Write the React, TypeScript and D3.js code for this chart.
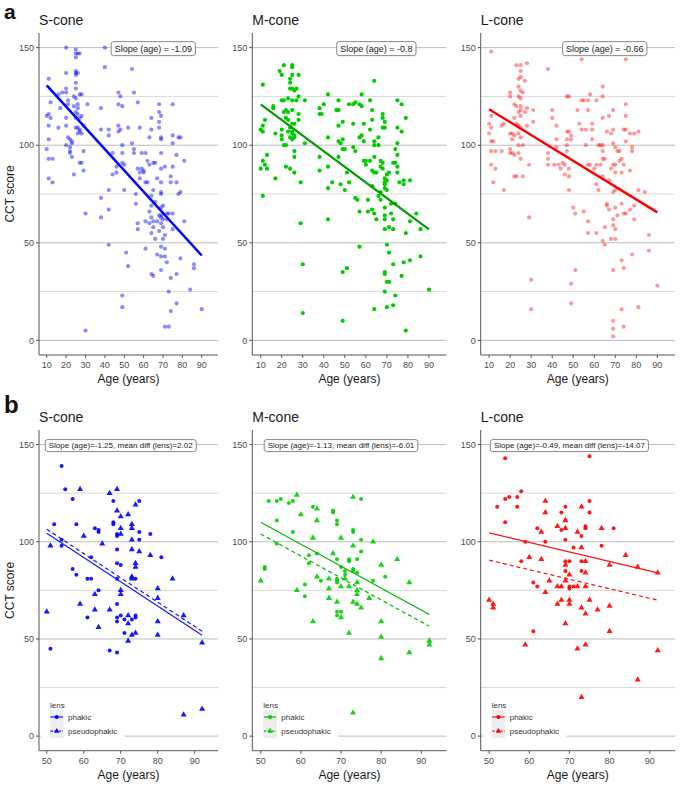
import React from "react";
import * as d3 from "d3";

// ---------- DATA ----------
const coneNames = ["S-cone", "M-cone", "L-cone"];
const xTicksA = [10, 20, 30, 40, 50, 60, 70, 80, 90];
const xTicksB = [50, 60, 70, 80, 90];
const yTicks = [0, 50, 100, 150];
const yMinorTicks = [25, 75, 125];
const lensLevels = ["phakic", "pseudophakic"];

// Panel a: [age, CCT score]
const sConeA: [number, number][] = [
  [10,98],[11,134],[12,122],[10,115],[11,116],[12,114],[11,110],[11,103],[11,93],[13,93],[11,83],[13,81],
  [16,126],[17,119],[16,109],[18,127],
  [20,150],[20,137],[20,129],[20,127],[21,123],[20,114],[20,110],[21,121],[21,104],[20,100],[22,103],[22,99],[22,97],[22,96],[23,101],[23,94],[24,125],[24,120],[25,132],[25,129],[24,85],[23,102],
  [25,149],[25,147],[25,145],[25,138],[25,137],[25,136],[26,137],[26,147],[27,147],[25,124],[25,109],[26,109],[27,108],[26,121],[27,126],[28,126],[25,114],[26,119],[26,116],[27,114],[25,117],[26,106],[27,107],
  [27,91],[28,91],[28,115],[29,97],[29,87],[28,106],[29,110],
  [30,65],[30,5],[31,121],
  [38,119],[38,73],[38,63],[38,108],[40,140],[40,150],[42,108],[42,105],[42,77],[42,67],[42,49],[44,96],
  [44,85],[46,86],[46,89],[47,127],[48,125],[47,121],[49,120],[47,110],[47,107],[48,108],[49,100],[49,96],[49,91],[50,90],[50,77],[49,23],[49,17],[51,45],[52,38],[52,109],
  [54,139],[55,127],[54,101],[55,98],[55,96],[57,122],[56,75],[56,70],[57,60],[57,57],[57,88],[58,86],[58,83],[58,109],[59,88],[59,96],[60,87],[60,86],
  [61,96],[61,81],[61,61],[61,47],[62,81],[62,92],[63,104],[63,90],[63,66],[63,60],[64,108],[64,74],[64,69],[64,63],[64,114],[64,34],[65,33],[64,55],[65,58],[65,61],[65,91],[66,91],[65,77],[66,71],[67,83],[67,61],[66,52],[67,44],[68,64],[68,56],[68,117],
  [68,121],[68,112],[68,109],[69,115],[69,104],[69,103],[69,96],[69,88],[69,81],[69,76],[69,75],[69,68],[69,64],[69,63],[69,60],[69,48],[69,43],[69,36],[70,69],[70,62],[70,58],[70,52],[71,89],[71,54],[71,47],[71,43],[71,7],[72,40],[72,62],[72,65],[73,7],[73,25],[73,65],[74,84],[74,81],[74,15],[74,32],[75,121],[75,105],[75,101],[75,89],[75,65],[75,57],[77,95],[77,81],[77,34],[77,19],[78,75],[78,104],[79,104],[79,76],[79,42],[81,92],[81,61],[84,26],[86,39],[86,37],[90,16]
];

const mConeA: [number, number][] = [
  [11,131],[10,108],[11,107],[11,110],[10,88],[11,92],[12,90],[13,88],[13,95],[12,113],[11,74],[16,120],[16,119],[17,83],[17,106],
  [19,138],[20,136],[21,141],[20,123],[21,123],[21,117],[20,108],[20,105],[20,103],[21,100],[22,100],[22,114],[22,118],[23,113],[23,117],[22,89],[24,88],[23,124],[24,129],[24,134],[25,141],[25,140],[24,132],[25,136],[25,129],[25,123],[25,118],[25,111],[25,107],[25,106],[24,104],[25,103],[26,104],[23,107],[24,109],[26,111],[26,105],[27,129],[26,128],[27,123],[28,136],[28,125],[26,97],[26,94],[26,86],[28,116],[28,113],[29,81],[29,60],[30,39],[30,14],[31,123],[31,101],
  [38,119],[38,116],[39,116],[40,121],[38,94],[38,87],[42,126],[42,104],[42,89],[42,78],[42,62],[44,81],[46,118],[47,118],[47,123],[47,110],[47,102],[47,94],[48,80],[48,101],[49,112],[49,103],[49,98],[50,98],[50,77],[49,35],[51,37],[49,10],[51,86],[52,81],[52,121],[54,121],[55,122],[54,111],[54,99],[55,97],[55,73],[56,72],[57,121],[58,120],[57,104],[57,66],[57,48],[58,126],[58,105],[59,111],[59,102],[59,92],[60,92],[60,90],[61,72],[61,66],[62,123],[62,108],[62,92],[63,87],[63,79],[63,118],[63,113],[63,67],[64,133],[64,102],[64,100],[64,94],[64,86],[64,65],[64,16],[65,86],[65,62],[66,100],[66,104],[66,74],[67,92],[67,89],[67,72],[67,76],
  [68,116],[68,114],[68,109],[68,91],[68,88],[69,112],[69,109],[69,83],[69,81],[69,80],[69,78],[69,68],[69,64],[69,62],[69,57],[69,35],[69,34],[69,25],[70,85],[70,82],[70,77],[70,49],[70,30],[70,17],[71,45],[71,30],[71,58],[71,86],[72,65],[72,70],[73,91],[73,57],[73,62],[73,39],[73,18],[74,98],[74,91],[74,23],[74,70],[75,123],[75,101],[75,95],[75,89],[75,86],[75,109],[76,81],[77,121],[77,107],[77,33],[78,82],[78,80],[78,40],[79,114],[79,55],[79,5],[81,82],[81,61],[81,41],[84,65],[86,57],[86,43],[90,26]
];

const lConeA: [number, number][] = [
  [11,148],[10,111],[10,106],[11,115],[11,109],[11,102],[12,102],[11,97],[13,97],[11,90],[13,88],[12,81],[16,97],[16,110],[17,111],[17,77],
  [20,127],[20,125],[20,106],[21,106],[20,98],[20,96],[21,96],[21,103],[22,121],[22,114],[22,84],[23,84],[22,95],[22,105],[23,111],[23,141],[25,141],[25,138],[24,134],[25,135],[24,130],[25,128],[24,125],[25,124],[23,120],[24,117],[25,115],[24,110],[24,106],[25,120],[25,118],[25,109],[25,104],[24,100],[24,96],[25,93],[26,100],[26,84],[26,127],[27,133],[28,142],[28,119],[28,110],[27,117],[29,90],[29,63],[30,31],[30,16],[31,118],[31,112],
  [38,139],[38,96],[38,93],[38,90],[40,118],[40,114],[42,110],[42,103],[42,99],[41,90],[43,90],[44,88],[45,91],[46,90],[46,85],[47,125],[48,125],[47,107],[47,103],[47,100],[47,97],[48,107],[48,84],[48,88],[49,105],[49,103],[48,77],[49,29],[49,19],[50,68],[51,65],[51,36],[52,118],[53,111],[54,144],[54,123],[54,108],[55,123],[55,66],[56,108],[56,100],[57,123],[57,118],[57,90],[57,61],[57,55],[58,126],[58,90],[59,111],[59,108],[59,103],[60,88],[61,123],[61,90],[61,80],[61,55],[62,100],[62,77],[63,100],[63,90],[64,130],[64,125],[64,114],[64,100],[64,97],[64,93],[64,84],[64,51],[65,93],[65,49],[65,58],[66,107],[66,70],[66,69],[67,115],[67,67],[67,82],[68,106],[68,88],[68,52],
  [69,118],[69,108],[69,90],[69,101],[69,76],[69,62],[69,59],[69,36],[69,10],[69,6],[69,2],[70,99],[70,90],[70,86],[70,77],[70,68],[70,57],[70,52],[71,97],[71,64],[72,97],[72,92],[73,93],[73,86],[73,70],[73,41],[73,16],[74,90],[74,108],[74,65],[74,37],[74,7],[75,144],[75,121],[75,115],[75,108],[75,102],[75,65],[77,106],[77,87],[77,67],[78,99],[78,97],[78,44],[79,106],[79,69],[79,62],[81,107],[81,77],[81,17],[84,76],[86,54],[86,46],[90,28]
];

// Panel b: phakic (circles) and pseudophakic (triangles)
const sConeBPhakic: [number, number][] = [
  [54,139],[55,127],[57,122],[52,109],[58,109],[54,101],[54,98],[51,45],[57,86],[58,83],[62,92],[63,107],[64,106],[64,105],[61,81],[62,81],[61,61],[64,75],[67,44],[68,121],[68,110],[68,109],[69,104],[69,103],[69,96],[69,89],[70,88],[69,81],[69,68],[69,61],[69,59],[69,43],[70,62],[71,60],[71,53],[73,60],[74,81],[74,62],[74,61],[75,121],[75,105],[75,101],[78,104],[81,92]
];
const sConeBPseudo: [number, number][] = [
  [50,64],[51,98],[59,127],[60,103],[59,68],[63,73],[63,65],[64,56],[65,99],[67,125],[67,65],[69,127],[69,116],[70,113],[70,107],[70,104],[70,75],[70,73],[72,114],[72,62],[72,58],[72,49],[73,109],[73,107],[73,96],[73,101],[73,82],[73,81],[73,52],[74,89],[74,87],[74,119],[74,53],[75,95],[78,93],[80,76],[80,71],[80,59],[80,52],[84,81],[87,62],[87,11],[92,48],[92,14]
];
const mConeBPhakic: [number, number][] = [
  [52,121],[54,121],[55,122],[57,120],[58,121],[51,86],[51,87],[54,111],[54,99],[58,105],[61,78],[61,72],[62,89],[62,93],[64,94],[65,80],[63,118],[68,116],[68,115],[69,111],[69,109],[69,91],[69,81],[69,80],[69,79],[69,62],[69,64],[70,87],[70,64],[71,85],[71,83],[72,91],[72,90],[73,106],[73,105],[73,86],[73,85],[74,91],[74,84],[75,122],[75,101],[75,95],[78,80],[81,82]
];
const mConeBPseudo: [number, number][] = [
  [50,80],[59,124],[60,114],[59,75],[63,102],[63,59],[64,117],[64,111],[64,82],[67,81],[67,76],[67,71],[68,94],[69,69],[70,61],[70,102],[70,77],[71,81],[72,53],[72,77],[73,123],[73,98],[73,69],[73,12],[74,79],[74,75],[74,73],[74,68],[75,66],[77,71],[78,100],[80,88],[80,59],[80,51],[80,40],[84,91],[87,79],[87,43],[92,49],[92,47]
];
const lConeBPhakic: [number, number][] = [
  [54,143],[54,122],[55,123],[57,123],[58,126],[52,118],[57,118],[54,110],[59,100],[58,90],[61,79],[61,54],[62,77],[62,107],[64,100],[68,115],[68,106],[69,118],[69,101],[69,90],[69,85],[70,90],[70,77],[70,76],[71,97],[71,77],[73,103],[73,85],[73,90],[74,108],[74,107],[75,144],[75,121],[75,115],[78,98],[81,107]
];
const lConeBPseudo: [number, number][] = [
  [50,70],[51,68],[51,66],[59,47],[60,92],[63,105],[63,91],[64,121],[64,115],[64,74],[65,80],[67,108],[67,77],[67,68],[68,77],[68,70],[69,111],[69,107],[69,88],[69,80],[69,58],[70,83],[70,70],[70,68],[72,105],[72,77],[72,45],[73,118],[73,97],[73,66],[73,20],[74,90],[74,84],[74,77],[74,63],[74,47],[75,70],[77,65],[78,107],[80,88],[80,67],[80,54],[84,93],[87,87],[87,29],[92,84],[92,44]
];

// fitted lines (slope per year, intercept at age 0)
const slopeA = [-1.09, -0.8, -0.66];
const interceptA = [141.6, 128.9, 125.0];
const fitRangeA = [10, 90];
const labelA = ["Slope (age) = -1.09", "Slope (age) = -0.8", "Slope (age) = -0.66"];
const slopeB = [-1.25, -1.13, -0.49];
const interceptB = [166.9, 166.5, 129.1];
const meanDiffB = [2.02, -6.01, -14.07];
const fitRangeB = [50, 92];
const labelB = [
  "Slope (age)=-1.25, mean diff (lens)=2.02",
  "Slope (age)=-1.13, mean diff (lens)=-6.01",
  "Slope (age)=-0.49, mean diff (lens)=-14.07",
];

// ---------- STYLE / LAYOUT ----------
const FONT = "'Liberation Sans', Arial, Helvetica, sans-serif";
const pointColors = ["#0000ff", "#00cd00", "#ff0000"];
const pointOpacityA = [0.45, 1, 0.4];
const lineColorsA = ["#0000ff", "#009c00", "#ff0000"];
const lineColorsB = ["#1515ff", "#00b800", "#ff1010"];
const panelX: [number, number][] = [[39, 218], [252.3, 446.6], [480.7, 675]];
const yDomain: [number, number] = [-7.5, 157.5];
const xDomainA: [number, number] = [6, 98.4];
const xDomainB: [number, number] = [47.9, 96.3];

function measure(text: string, size: number): number {
  const c = document.createElement("canvas").getContext("2d");
  if (!c) return text.length * size * 0.5;
  c.font = `${size}px 'Liberation Sans', Arial, sans-serif`;
  return c.measureText(text).width;
}

type PanelProps = {
  i: number;
  top: number;
  bottom: number;
  xDomain: [number, number];
  xTicks: number[];
  title: string;
  showYTitle: boolean;
  children: (x: d3.ScaleLinear<number, number>, y: d3.ScaleLinear<number, number>) => React.ReactNode;
};

function Panel({ i, top, bottom, xDomain, xTicks, title, showYTitle, children }: PanelProps) {
  const [l, r] = panelX[i];
  const x = d3.scaleLinear().domain(xDomain).range([l, r]);
  const y = d3.scaleLinear().domain(yDomain).range([bottom, top]);
  const axisColor = "#555";
  return (
    <g>
      <text x={l} y={top - 8} fontFamily={FONT} fontSize={14} fill="#1a1a1a">{title}</text>
      {yMinorTicks.map((t) => (
        <line key={"mn" + t} x1={l} x2={r} y1={y(t)} y2={y(t)} stroke="#cfcfcf" strokeWidth={0.8} />
      ))}
      {yTicks.map((t) => (
        <line key={"mj" + t} x1={l} x2={r} y1={y(t)} y2={y(t)} stroke="#bdbdbd" strokeWidth={1} />
      ))}
      {children(x, y)}
      <line x1={l} x2={l} y1={top} y2={bottom} stroke={axisColor} strokeWidth={1} />
      <line x1={l} x2={r} y1={bottom} y2={bottom} stroke={axisColor} strokeWidth={1} />
      {yTicks.map((t) => (
        <g key={"yt" + t}>
          <line x1={l - 3} x2={l} y1={y(t)} y2={y(t)} stroke={axisColor} />
          <text x={l - 5} y={y(t)} dy="0.35em" textAnchor="end" fontFamily={FONT} fontSize={9} fill="#4d4d4d">{t}</text>
        </g>
      ))}
      {xTicks.map((t) => (
        <g key={"xt" + t}>
          <line x1={x(t)} x2={x(t)} y1={bottom} y2={bottom + 3} stroke={axisColor} />
          <text x={x(t)} y={bottom + 13} textAnchor="middle" fontFamily={FONT} fontSize={9} fill="#4d4d4d">{t}</text>
        </g>
      ))}
      <text x={(l + r) / 2} y={bottom + 28} textAnchor="middle" fontFamily={FONT} fontSize={12} fill="#1a1a1a">Age (years)</text>
      {showYTitle && (
        <text transform={`translate(13.5,${(top + bottom) / 2}) rotate(-90)`} textAnchor="middle" fontFamily={FONT} fontSize={12} fill="#1a1a1a">CCT score</text>
      )}
    </g>
  );
}

function LabelBox({ cx, cy, text, size, h }: { cx: number; cy: number; text: string; size: number; h: number }) {
  const w = measure(text, size) + 7;
  return (
    <g>
      <rect x={cx - w / 2} y={cy - h / 2} width={w} height={h} rx={2.5} fill="#fff" stroke="#7a7a7a" strokeWidth={0.9} />
      <text x={cx} y={cy} dy="0.35em" textAnchor="middle" fontFamily={FONT} fontSize={size} fill="#222">{text}</text>
    </g>
  );
}

export default function App() {
  const dataA = [sConeA, mConeA, lConeA];
  const dataB = [
    [sConeBPhakic, sConeBPseudo],
    [mConeBPhakic, mConeBPseudo],
    [lConeBPhakic, lConeBPseudo],
  ];
  const tri = d3.symbol(d3.symbolTriangle, 16)() || "";
  const triSmall = d3.symbol(d3.symbolTriangle, 12)() || "";
  const topA = 33, bottomA = 355, topB = 430, bottomB = 750.7;

  return (
    <svg width={680} height={786} style={{ position: "absolute", left: 0, top: 0, background: "#fff" }}>
      <rect width={680} height={786} fill="#fff" />
      <text x={4} y={19} fontFamily={FONT} fontSize={21} fontWeight="bold" fill="#111">a</text>
      <text x={4} y={413} fontFamily={FONT} fontSize={24} fontWeight="bold" fill="#111">b</text>

      {coneNames.map((name, i) => (
        <Panel key={"a" + i} i={i} top={topA} bottom={bottomA} xDomain={xDomainA} xTicks={xTicksA} title={name} showYTitle={i === 0}>
          {(x, y) => {
            const line = d3.line<number>().x((a) => x(a)).y((a) => y(interceptA[i] + slopeA[i] * a));
            return (
              <g>
                {dataA[i].map(([a, s], k) => (
                  <circle key={k} cx={x(a)} cy={y(s)} r={2.1} fill={pointColors[i]} fillOpacity={pointOpacityA[i]} />
                ))}
                <path d={line(fitRangeA) || ""} stroke={lineColorsA[i]} strokeWidth={i === 1 ? 2.2 : 2.5} fill="none" />
                <LabelBox cx={x(65)} cy={y(150) + 1} text={labelA[i]} size={9} h={14} />
              </g>
            );
          }}
        </Panel>
      ))}

      {coneNames.map((name, i) => (
        <Panel key={"b" + i} i={i} top={topB} bottom={bottomB} xDomain={xDomainB} xTicks={xTicksB} title={name} showYTitle={i === 0}>
          {(x, y) => {
            const linePh = d3.line<number>().x((a) => x(a)).y((a) => y(interceptB[i] + slopeB[i] * a));
            const linePs = d3.line<number>().x((a) => x(a)).y((a) => y(interceptB[i] + meanDiffB[i] + slopeB[i] * a));
            const col = lineColorsB[i];
            const [lx] = panelX[i];
            return (
              <g>
                {dataB[i][0].map(([a, s], k) => (
                  <circle key={"p" + k} cx={x(a)} cy={y(s)} r={2} fill={pointColors[i]} fillOpacity={0.9} />
                ))}
                {dataB[i][1].map(([a, s], k) => (
                  <path key={"t" + k} d={tri} transform={`translate(${x(a)},${y(s)})`} fill={pointColors[i]} fillOpacity={0.9} />
                ))}
                <path d={linePh(fitRangeB) || ""} stroke={col} strokeWidth={1.2} fill="none" />
                <path d={linePs(fitRangeB) || ""} stroke={col} strokeWidth={1.2} strokeDasharray="4,3" fill="none" />
                <LabelBox cx={x(70)} cy={y(150) + 1} text={labelB[i]} size={8} h={12} />
                {/* legend */}
                <g>
                  <rect x={lx + 2} y={bottomB - 56} width={84} height={50} fill="#fff" />
                  <text x={lx + 11} y={bottomB - 43} fontFamily={FONT} fontSize={8} fill="#333">lens</text>
                  {lensLevels.map((lv, k) => {
                    const ky = bottomB - 40.7 + k * 14.15;
                    return (
                      <g key={lv}>
                        <rect x={lx + 11} y={ky} width={13.5} height={14.15} fill="#ededed" />
                        <line x1={lx + 11.5} x2={lx + 24} y1={ky + 7} y2={ky + 7} stroke={col} strokeWidth={1.2} strokeDasharray={k === 1 ? "2.5,1.5" : undefined} />
                        {k === 0 ? (
                          <circle cx={lx + 17.75} cy={ky + 7} r={2} fill={pointColors[i]} />
                        ) : (
                          <path d={triSmall} transform={`translate(${lx + 17.75},${ky + 7})`} fill={pointColors[i]} />
                        )}
                        <text x={lx + 29} y={ky + 7} dy="0.35em" fontFamily={FONT} fontSize={8} fill="#333">{lv}</text>
                      </g>
                    );
                  })}
                </g>
              </g>
            );
          }}
        </Panel>
      ))}
    </svg>
  );
}
